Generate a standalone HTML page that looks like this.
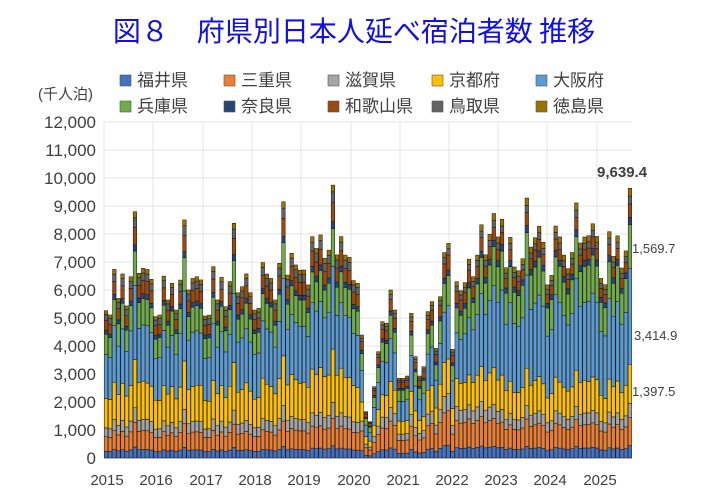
<!DOCTYPE html>
<html><head><meta charset="utf-8"><style>
body{margin:0;background:#fff;}
svg{display:block;font-family:"Liberation Sans","Noto Sans CJK JP",sans-serif;}
</style></head><body>
<svg id="c" width="709" height="489" viewBox="0 0 709 489" xmlns="http://www.w3.org/2000/svg">
<text x="354" y="41" text-anchor="middle" font-size="28" fill="#1010e0" font-family="'Noto Sans CJK JP',sans-serif">図８　府県別日本人延べ宿泊者数  推移</text>
<text x="38" y="99" font-size="15" fill="#404040">(千人泊)</text>
<g id="grid"></g>
<g id="bars"></g>
<g id="leg" font-size="17" fill="#404040"></g>
<g font-size="13" fill="#404040">
<text x="597" y="177" font-weight="bold" font-size="15">9,639.4</text>
<text x="632" y="253">1,569.7</text>
<text x="634" y="340">3,414.9</text>
<text x="632" y="396">1,397.5</text>
</g>
</svg>
<script>
var ns="http://www.w3.org/2000/svg";
function el(t,a,p,txt){var e=document.createElementNS(ns,t);for(var k in a)e.setAttribute(k,a[k]);if(txt)e.textContent=txt;p.appendChild(e);return e;}
var g=document.getElementById('grid'),b=document.getElementById('bars'),L=document.getElementById('leg'),svg=document.getElementById('c');
var y0=458,ppk=28,x0=104,x1=632;
for(var i=0;i<=12;i++){var y=y0-i*ppk;
 el('line',{x1:x0,x2:x1,y1:y,y2:y,stroke:'#e4e4e4','stroke-width':1},g);
 el('text',{x:96,y:y+6,'text-anchor':'end','font-size':17,fill:'#404040'},svg,(i*1000).toLocaleString('en-US'));}
var yrs=[104,153,203,252,301,351,400,449,498,547,597];
for(var i=0;i<yrs.length;i++){el('line',{x1:yrs[i],x2:yrs[i],y1:122,y2:y0,stroke:'#e4e4e4'},g);
 el('text',{x:yrs[i]+3,y:485,'text-anchor':'middle','font-size':15,fill:'#404040'},svg,String(2015+i));}
el('line',{x1:x0,x2:x1,y1:y0,y2:y0,stroke:'#bbb'},g);
var cols=['#4472C4','#ED7D31','#A5A5A5','#FFC000','#5B9BD5','#70AD47','#264478','#9E480E','#636363','#997300'];
var names=['福井県','三重県','滋賀県','京都府','大阪府','兵庫県','奈良県','和歌山県','鳥取県','徳島県'];
var lx=[120,224,328,432,536];
for(var i=0;i<10;i++){var x=lx[i%5],y=i<5?85:111;
 el('rect',{x:x,y:y-10,width:11,height:11,fill:cols[i],stroke:'#555','stroke-width':0.6},L);
 el('text',{x:x+17,y:y+1},L,names[i]);}
// tops from zoom1 (py) for 2015-2019
var z1=[422,435,298,385,312,408,320,125,310,295,298,328, 440,435,318,390,340,420,330,150,360,325,320,330, 438,435,290,390,322,410,335,160,368,350,312,368, 420,415,278,312,325,390,280,95,315,250,285,300, 300,345,200,235,195,265,240,45,255,200,255,262];
var T=[];z1.forEach(function(p){T.push((288-p/3)/28);});
T.push((288-332/3)/28);T.push((288-340/3)/28);
var z2=[525,755,785,680,575,485,490,390,450,655, 655,648,460,590,648,620,455,425,565,410,278,250, 568,365,392,368,298,350,285,195,285,222,160,232, 178,322,232,322,332,295,115,262,232,198,248,375, 345,198,232,285,325,278,130,248,230,228,192,228, 355,375,215,288,228,325,272,92];
z2.forEach(function(p){T.push((298-p/3)/28);});
T[T.length-1]=9.6394;
var pre=[0.045,0.10,0.06,0.20,0.30,0.14,0.025,0.07,0.04,0.025];
var post=[0.045,0.105,0.053,0.145,0.355,0.163,0.027,0.05,0.028,0.028];
var cov=[0.06,0.16,0.08,0.16,0.25,0.14,0.025,0.07,0.03,0.025];
var n=T.length,w=(x1-x0)/n;
for(var i=0;i<n;i++){var s;
 if(i<62)s=pre;else if(i<84)s=cov;else if(i<96){var f=(i-84)/12;s=cov.map(function(v,k){return v*(1-f)+post[k]*f;});}else s=post;
 var sum=s.reduce(function(a,c){return a+c;},0);
 var jit=Math.sin(i*1.7)*0.03;
 var y=y0;
 for(var k=0;k<10;k++){var v=T[i]*s[k]/sum;
  if(k==3)v*=1+jit;if(k==4)v*=1-jit*0.6;
  if(i==n-1){v=[0.44,1.0,0.51,1.3975,3.4149,1.5697,0.26,0.48,0.28,0.28][k];}
  var h=v*ppk;y-=h;
  el('rect',{x:(x0+i*w+0.3).toFixed(2),y:y.toFixed(2),width:(w-0.6).toFixed(2),height:h.toFixed(2),fill:cols[k],stroke:'#111','stroke-width':0.5},b);}
}
</script>
</body></html>
